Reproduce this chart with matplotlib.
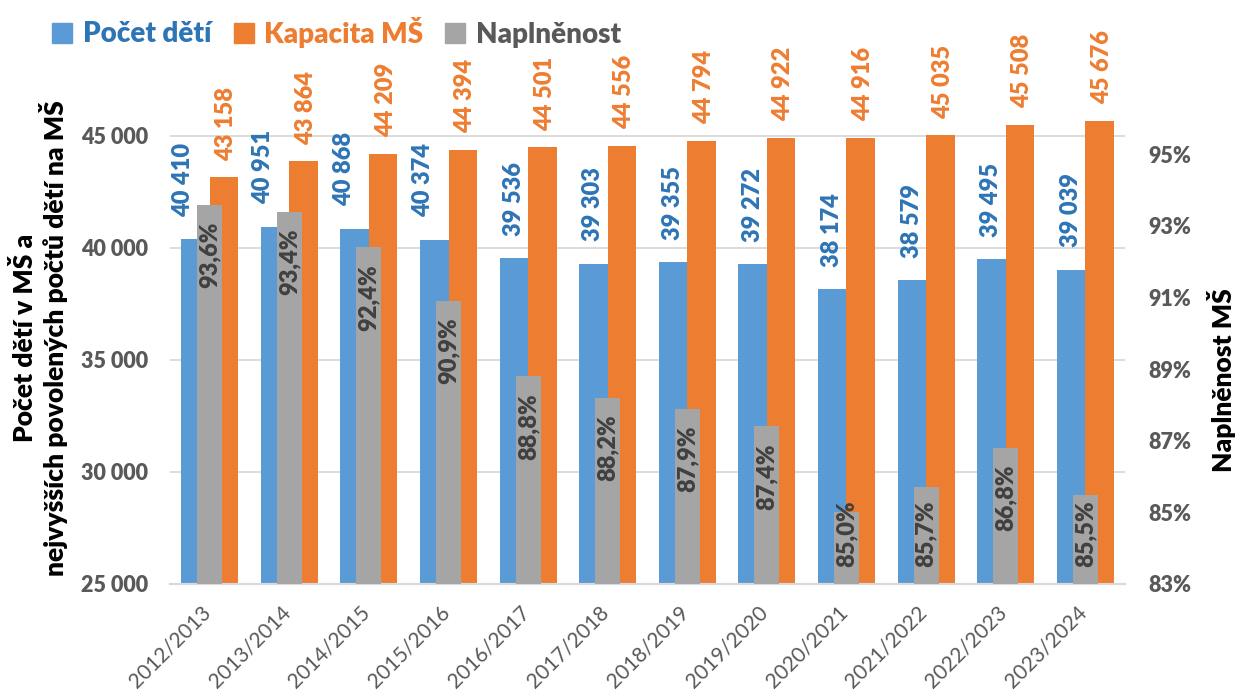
import numpy as np
import matplotlib
matplotlib.use('Agg')
from matplotlib import pyplot as plt
from matplotlib.lines import Line2D
from matplotlib import transforms

plt.rcParams['font.family'] = ['Lato', 'DejaVu Sans']

# data
roky = ['2012/2013', '2013/2014', '2014/2015', '2015/2016', '2016/2017', '2017/2018',
        '2018/2019', '2019/2020', '2020/2021', '2021/2022', '2022/2023', '2023/2024']
pocet_deti = [40410, 40951, 40868, 40374, 39536, 39303, 39355, 39272, 38174, 38579, 39495, 39039]
kapacita = [43158, 43864, 44209, 44394, 44501, 44556, 44794, 44922, 44916, 45035, 45508, 45676]
naplnenost = [93.6, 93.4, 92.4, 90.9, 88.8, 88.2, 87.9, 87.4, 85.0, 85.7, 86.8, 85.5]

# barvy
c_blue = '#5B9BD5'
c_blue_txt = '#2E75B6'
c_orange = '#ED7D31'
c_gray = '#A5A5A5'
c_gray_txt = '#404040'
c_tick = '#595959'
bold = 'heavy'

# posun popisku modrych sloupcu (px), at se nepreryvaji s sedymi
blue_shift = [-12, -12, -11, -11, 0, 0, 0, 0, 0, 0, 0, 0]

fig = plt.figure(figsize=(12.39, 6.9), dpi=100)
ax = fig.add_axes([170 / 1239, 106 / 690, 955 / 1239, 560 / 690])
ax2 = ax.twinx()

x = np.arange(len(roky))
w = 0.358
wg = 0.314

ax.bar(x - w / 2, pocet_deti, w, color=c_blue, zorder=2)
ax.bar(x + w / 2, kapacita, w, color=c_orange, zorder=2)
ax2.bar(x, naplnenost, wg, color=c_gray, zorder=3)

ax.set_xlim(-0.5, len(roky) - 0.5)
ax.set_ylim(25000, 50000)
ax2.set_ylim(83, 83 + 560 / 35.8)

ax.set_yticks([25000, 30000, 35000, 40000, 45000])
ax.set_yticklabels([f'{v:,}'.replace(',', ' ') for v in [25000, 30000, 35000, 40000, 45000]],
                   fontsize=15.5, fontweight=bold, color=c_tick)
ax2.set_yticks([83, 85, 87, 89, 91, 93, 95])
ax2.set_yticklabels([f'{v}%' for v in [83, 85, 87, 89, 91, 93, 95]],
                    fontsize=15.5, fontweight=bold, color=c_tick)
ax.tick_params(axis='y', length=0, pad=16)
ax2.tick_params(axis='y', length=0, pad=17)

ax.set_xticks(x)
ax.set_xticklabels(roky, rotation=45, ha='right', va='top', rotation_mode='anchor',
                   fontsize=15, color=c_tick)
ax.tick_params(axis='x', length=0, pad=13)
off = transforms.ScaledTranslation(-9 / 100, 0, fig.dpi_scale_trans)
for lbl in ax.get_xticklabels():
    lbl.set_transform(lbl.get_transform() + off)

ax.grid(axis='y', color='#D9D9D9', lw=1.3, zorder=0)
ax.set_axisbelow(True)
for a in (ax, ax2):
    for s in ['top', 'left', 'right']:
        a.spines[s].set_visible(False)
    a.spines['bottom'].set_color('#D9D9D9')
    a.spines['bottom'].set_linewidth(1.5)
ax2.patch.set_visible(False)

# popisky hodnot
for i in range(len(roky)):
    ax.annotate(f'{pocet_deti[i]:,}'.replace(',', ' '), (x[i] - w / 2, pocet_deti[i]),
                xytext=(blue_shift[i] * 0.72, 16), textcoords='offset points',
                rotation=90, ha='center', va='bottom', fontsize=17, fontweight=bold,
                color=c_blue_txt, annotation_clip=False)
    ax.annotate(f'{kapacita[i]:,}'.replace(',', ' '), (x[i] + w / 2 + 0.03, kapacita[i]),
                xytext=(0, 12), textcoords='offset points',
                rotation=90, ha='center', va='bottom', fontsize=17, fontweight=bold,
                color=c_orange, annotation_clip=False)
    txt = f'{naplnenost[i]:.1f}'.replace('.', ',') + '%'
    if naplnenost[i] < 86:
        ax2.annotate(txt, (x[i], 83), xytext=(0, 12), textcoords='offset points',
                     rotation=90, ha='center', va='bottom', fontsize=17, fontweight=bold,
                     color=c_gray_txt, zorder=4, annotation_clip=False)
    else:
        ax2.annotate(txt, (x[i], naplnenost[i]), xytext=(0, -12), textcoords='offset points',
                     rotation=90, ha='center', va='top', fontsize=17, fontweight=bold,
                     color=c_gray_txt, zorder=4, annotation_clip=False)

# osy - popisky
fig.text(40 / 1239, 1 - 338 / 690, 'Počet dětí v MŠ a\nnejvyšších povolených počtů dětí na MŠ',
         rotation=90, ha='center', va='center', fontsize=19, fontweight=bold,
         color='black', linespacing=1.05)
fig.text(1222 / 1239, 1 - 380 / 690, 'Naplněnost MŠ', rotation=90, ha='center', va='center',
         fontsize=19, fontweight=bold, color='black')

# legenda
handles = [Line2D([], [], marker='s', ls='none', markersize=14, color=c)
           for c in (c_blue, c_orange, c_gray)]
fig.legend(handles, ['Počet dětí', 'Kapacita MŠ', 'Naplněnost'], loc='center left',
           bbox_to_anchor=(52 / 1239, 1 - 32 / 690), ncol=3, frameon=False,
           prop={'size': 20, 'weight': bold}, labelcolor=[c_blue_txt, c_orange, c_tick],
           handlelength=0.75, handletextpad=0.35, columnspacing=0.8,
           borderpad=0, borderaxespad=0)

fig.savefig('out.png', dpi=100)
